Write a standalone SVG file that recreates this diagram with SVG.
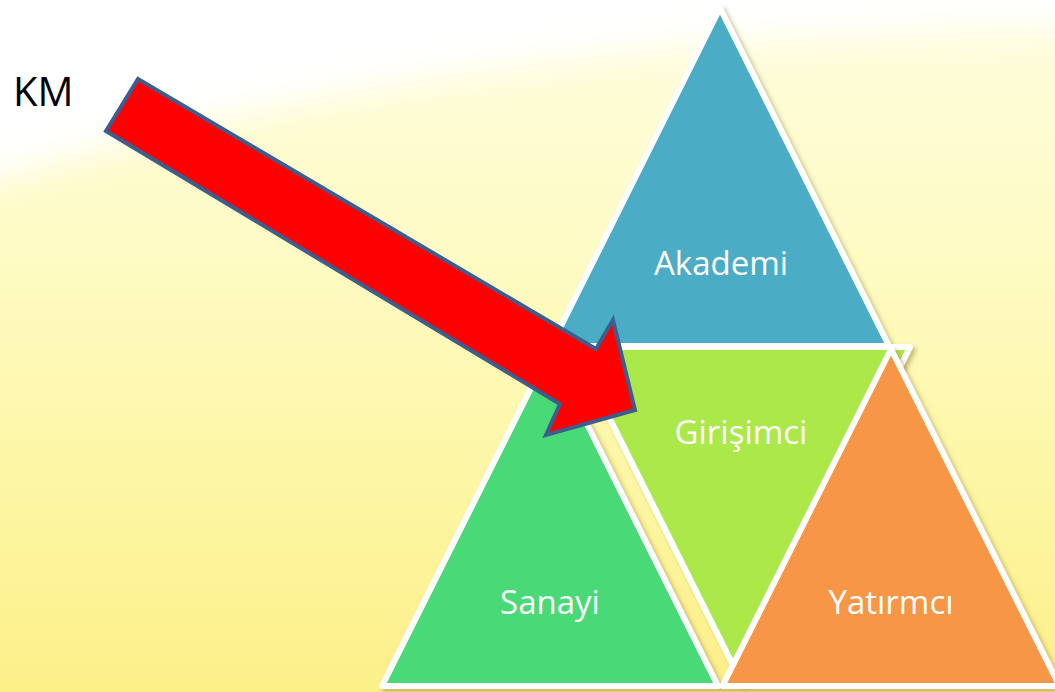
<svg xmlns="http://www.w3.org/2000/svg" width="1055" height="692" viewBox="0 0 1055 692">
  <defs>
    <linearGradient id="bg" x1="0" y1="0" x2="0" y2="1">
      <stop offset="0" stop-color="#fefdde"/>
      <stop offset="0.35" stop-color="#fefbc6"/>
      <stop offset="0.7" stop-color="#fdf6a4"/>
      <stop offset="1" stop-color="#fcef88"/>
    </linearGradient>
    <filter id="blur" x="-10%" y="-50%" width="120%" height="200%">
      <feGaussianBlur stdDeviation="18"/>
    </filter>
    <filter id="shadow" x="-10%" y="-10%" width="130%" height="130%">
      <feDropShadow dx="3" dy="3" stdDeviation="2" flood-color="#8a7420" flood-opacity="0.45"/>
    </filter>
    <style>
      .tri { stroke: #ffffff; stroke-width: 6; stroke-linejoin: round; filter: url(#shadow); }
      .lbl { font-family: "Open Sans", "Liberation Sans", sans-serif; font-size: 33px; fill: #ffffff; text-anchor: middle; }
      .km { font-family: "Open Sans", "Liberation Sans", sans-serif; font-size: 40px; fill: #000000; }
    </style>
  </defs>

  <g id="background">
    <rect x="0" y="0" width="1055" height="692" fill="url(#bg)"/>
    <path d="M-60,-60 L-60,200 Q250,90 700,45 Q900,30 1120,28 L1120,-60 Z" fill="#ffffff" filter="url(#blur)"/>
  </g>

  <g id="akademi">
    <polygon class="tri" points="720,8 889,346 551,346" fill="#4bacc6"/>
    <text class="lbl" x="721" y="275">Akademi</text>
  </g>

  <g id="sanayi">
    <polygon class="tri" points="550,350 718,686 382,686" fill="#4ad977"/>
    <text class="lbl" x="550" y="614">Sanayi</text>
  </g>

  <g id="girisimci">
    <polygon class="tri" points="574,347 910,347 742,683" fill="#abe84a"/>
    <text class="lbl" x="741" y="444">Girişimci</text>
  </g>

  <g id="yatirmci">
    <polygon class="tri" points="891,349 1059.5,686 722.5,686" fill="#f79646"/>
    <text class="lbl" x="891" y="614">Yatırmcı</text>
  </g>

  <g id="km">
    <text class="km" x="13" y="106">KM</text>
  </g>

  <g id="connectors">
    <polygon points="138,79 596,349 613,320 635,410 546,435 560,404 106,131" fill="#ff0000" stroke="#3d5d8c" stroke-width="4" stroke-linejoin="miter"/>
  </g>
</svg>
